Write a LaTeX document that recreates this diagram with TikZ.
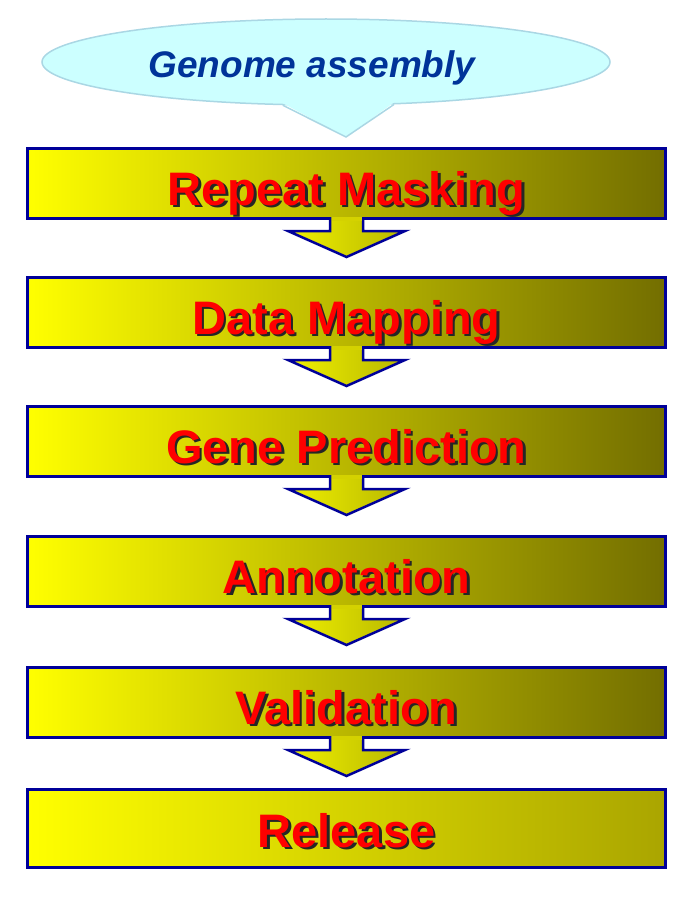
\documentclass[tikz,border=0pt]{standalone}
\usepackage{fontspec}
\setmainfont{Liberation Sans}
\usepackage{tikz}
\usetikzlibrary{positioning,shapes.geometric}

\definecolor{boxblue}{RGB}{0,0,153}
\definecolor{olivedark}{RGB}{115,110,0}
\definecolor{olivelight}{RGB}{170,165,0}
\definecolor{olivemid}{RGB}{212,210,0}
\definecolor{cloudfill}{RGB}{204,255,255}
\definecolor{cloudline}{RGB}{170,215,228}
\definecolor{cloudtext}{RGB}{0,51,153}

\newcommand{\shadowed}[1]{\rlap{\kern2.5pt\raisebox{-2.5pt}{\color{black!85}#1}}{\color{red}#1}}

\begin{document}
\begin{tikzpicture}[x=1pt,y=-1pt,node distance=56pt,line join=miter]
\tikzstyle{stage}=[rectangle,draw=boxblue,line width=3pt,left color=yellow,
                   middle color=olivemid,right color=olivedark,
                   minimum width=638pt,minimum height=70pt,inner sep=0pt,
                   font=\fontsize{47}{50}\bfseries,text height=43pt,text depth=0pt]
\tikzstyle{flow}=[draw=boxblue,line width=2.5pt,left color=yellow!94!black,
                  right color=yellow!72!black]
\tikzstyle{cloud}=[fill=cloudfill,draw=cloudline,line width=1.5pt]

\useasboundingbox (0,0) rectangle (687,899);

% callout
\node[ellipse,cloud,minimum width=568pt,minimum height=86pt,inner sep=0pt,
      font=\fontsize{37}{40}\bfseries\itshape,text=cloudtext,
      text height=31pt,text depth=0pt]
      (ga) at (326,62) {Genome assembly\hspace*{28pt}};
\coordinate (tip) at (346,137);

% stages
\node[stage]	(rm)	at (346.5,183.5)	{\shadowed{Repeat Masking}};
\node[stage]	(dm)	[below=56pt of rm]	{\shadowed{Data Mapping}};
\node[stage]	(gp)	[below=56pt of dm]	{\shadowed{Gene Prediction}};
\node[stage]	(an)	[below=57pt of gp]	{\shadowed{Annotation}};
\node[stage]	(va)	[below=58pt of an]	{\shadowed{Validation}};
\node[stage,right color=olivelight,minimum height=78pt,text height=37pt]
		(re)	[below=49pt of va]	{\shadowed{Release}};

% tail of the callout
\fill[cloudfill] ([yshift=2pt]ga.225) -- (tip) -- ([yshift=2pt]ga.328) -- cycle;
\draw[cloudline,line width=1.5pt] (ga.225) -- (tip) -- (ga.328);

% arrows between stages
\foreach \a/\b in {rm/dm,dm/gp,gp/an,an/va,va/re}{
  \path[flow] ([xshift=-16.5pt,yshift=3pt]\a.south) -- ++(0,14) -- ++(-42,0)
        -- ([yshift=-37pt]\a.south) -- ++(58.5,-26) -- ++(-42,0)
        -- ([xshift=16.5pt,yshift=3pt]\a.south);
  \fill[olivemid] ([xshift=-15pt,yshift=3.2pt]\a.south) rectangle
        ([xshift=15pt,yshift=-1pt]\a.south);
}

\end{tikzpicture}
\end{document}
